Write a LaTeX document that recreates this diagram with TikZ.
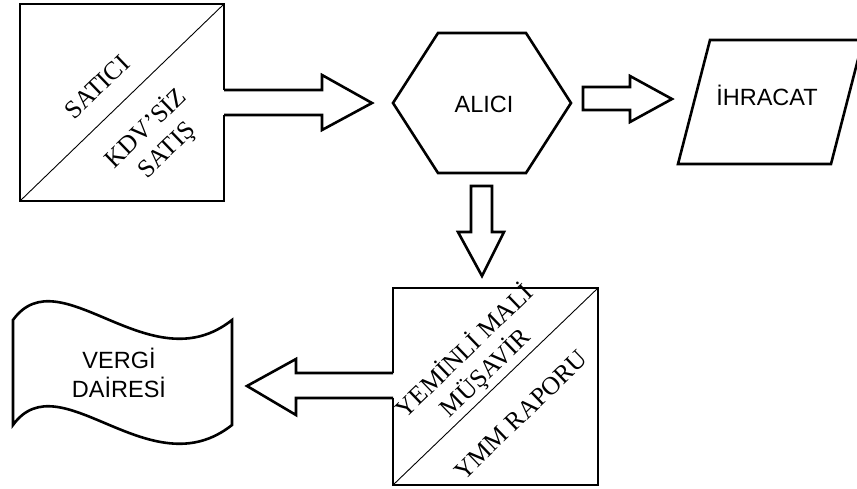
\documentclass[tikz,border=0pt]{standalone}
\usepackage{fontspec}
\setmainfont{Liberation Serif}
\newfontfamily\arialf{Liberation Sans}
\begin{document}
\begin{tikzpicture}[x=1pt,y=-1pt,
  outl/.style={line width=2.6pt, line join=miter},
  diag/.style={line width=0.9pt},
  sans/.style={font=\arialf\fontsize{23.5}{29}\selectfont, align=center, inner sep=0pt},
  serif/.style={font=\fontsize{25.5}{30}\selectfont, align=center, rotate=44, inner sep=0pt}]
\useasboundingbox (0,0) rectangle (857,488);
% SATICI box
\draw[outl] (224,90) -- (224,4) -- (20,4) -- (20,201) -- (224,201) -- (224,115);
\draw[diag] (20,201) -- (224,4);
% arrow satici -> alici
\draw[outl] (224,90) -- (322,90) -- (322,75) -- (372,103) -- (322,130) -- (322,115) -- (224,115);
% hexagon
\draw[outl] (438,33) -- (526,33) -- (571,103) -- (526,173) -- (438,173) -- (393,103) -- cycle;
% arrow alici -> ihracat
\draw[outl] (583,87) -- (630,87) -- (630,76) -- (672,99) -- (630,122) -- (630,110) -- (583,110) -- cycle;
% parallelogram
\draw[outl] (710,40) -- (863,40) -- (831,164) -- (678,164) -- cycle;
% down arrow
\draw[outl] (471,186) -- (492,186) -- (492,232) -- (504,232) -- (482,276) -- (458,232) -- (471,232) -- cycle;
% YMM box
\draw[outl] (393,373) -- (393,288) -- (598,288) -- (598,485) -- (393,485) -- (393,398);
\draw[diag] (393,485) -- (598,288);
% arrow ymm -> vergi
\draw[outl] (393,373) -- (296,373) -- (296,359) -- (247,386) -- (296,415) -- (296,398) -- (393,398);
% vergi dairesi tape
\draw[outl] (13,320) .. controls (60,255) and (150,385) .. (232,320) -- (232,425)
  .. controls (150,490) and (60,360) .. (13,425) -- cycle;
% texts
\node[sans] (alici) at (484,104) {ALICI};
\node[sans] (ihracat) at (767,95) {İHRACAT};
\node[sans] (vergi) at (119,373) {VERGİ\\DAİRESİ};
\node[serif] (satici) at (97,87) {SATICI};
\node[serif] (kdv) at (156,139) {KDV’SİZ\\SATIŞ};
\node[serif] (yemin) at (475,362) {YEMİNLİ MALİ\\MÜŞAVİR};
\node[serif] (ymmr) at (521,415) {YMM RAPORU};
\end{tikzpicture}
\end{document}
